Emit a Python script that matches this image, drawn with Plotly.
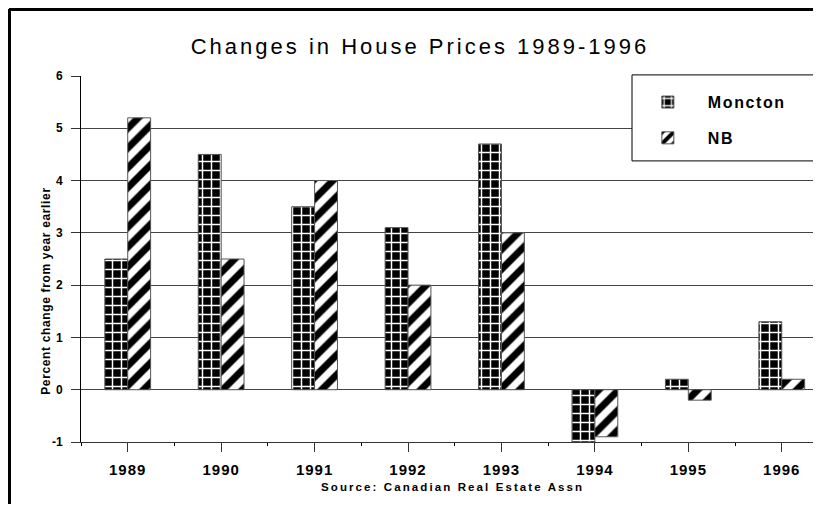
import plotly.graph_objects as go

years = ["1989", "1990", "1991", "1992", "1993", "1994", "1995", "1996"]
moncton = [2.5, 4.5, 3.5, 3.1, 4.7, -1.0, 0.2, 1.3]
nb = [5.2, 2.5, 4.0, 2.0, 3.0, -0.9, -0.2, 0.2]
y_ticks = [-1, 0, 1, 2, 3, 4, 5, 6]
y_labels = ["-1", "0", "1", "2", "3", "4", "5", "6"]
pos = list(range(len(years)))

FONT = "Liberation Sans, Arial, sans-serif"


def spaced(text, px):
    # the original output has widely tracked lettering
    return f'<span style="letter-spacing:{px}px">{text}</span>'


bold = dict(family=FONT, size=12, color="black", weight="bold")

fig = go.Figure()
fig.add_trace(go.Bar(
    x=pos, y=moncton, name=spaced("Moncton", 1.6), legendgroup="a",
    marker=dict(color="black", line=dict(color="#555", width=1),
                pattern=dict(shape="+", bgcolor="black", fgcolor="white",
                             size=9, solidity=0.3, fillmode="replace")),
))
fig.add_trace(go.Bar(
    x=pos, y=nb, name=spaced("NB", 1.6), legendgroup="b",
    marker=dict(color="white", line=dict(color="#555", width=1),
                pattern=dict(shape="/", bgcolor="white", fgcolor="black",
                             size=14, solidity=0.5, fillmode="replace")),
))

fig.update_layout(
    width=813, height=496,
    margin=dict(l=73, r=0, t=68, b=62),
    paper_bgcolor="white", plot_bgcolor="white",
    barmode="group", bargap=0.51, bargroupgap=0,
    title=dict(text=spaced("Changes in House Prices 1989-1996", 3),
               x=412 / 813, xanchor="center", y=1 - 38.5 / 496, yanchor="middle",
               font=dict(family=FONT, size=22, color="black", weight="normal")),
    legend=dict(x=0.739, y=0.975, xanchor="left", yanchor="top",
                bgcolor="rgba(0,0,0,0)", borderwidth=0, itemwidth=70,
                font=dict(family=FONT, size=16, color="black", weight="bold"),
                tracegroupgap=12),
    font=bold,
    showlegend=True,
)

fig.update_xaxes(
    range=[-0.5, 7.42], tickvals=pos, ticktext=[spaced(y, 1) for y in years],
    ticks="outside", ticklen=9, tickcolor="#333",
    tickfont=dict(family=FONT, size=15, color="black", weight="bold"),
    ticklabelstandoff=5,
    showgrid=False, showline=True, linecolor="#333", linewidth=1,
    zeroline=False,
    minor=dict(ticks="outside", ticklen=3, tick0=0.5, dtick=1, tickcolor="black", showgrid=False),
)
fig.update_yaxes(
    range=[-1, 6], tickvals=y_ticks, ticktext=y_labels,
    tickfont=dict(family=FONT, size=12, color="black", weight="bold"),
    ticks="outside", ticklen=9, tickcolor="#333", ticklabelstandoff=6,
    showgrid=True, gridcolor="#444", gridwidth=1,
    zeroline=True, zerolinecolor="#444", zerolinewidth=1,
    showline=True, linecolor="black", linewidth=1,
)

# axis titles placed as annotations to match the original offsets (plot width 740)
fig.add_annotation(text=spaced("Percent change from year earlier", 0.65), textangle=-90,
                   xref="paper", yref="paper", x=-0.0473, y=0.413,
                   xanchor="center", yanchor="middle",
                   showarrow=False, font=bold)
fig.add_annotation(text=spaced("Source: Canadian Real Estate Assn", 2.1),
                   xref="paper", yref="paper", x=0.5027, y=-0.123,
                   xanchor="center", yanchor="middle",
                   showarrow=False, font=dict(family=FONT, size=11.5, color="black", weight="bold"))

# legend box
fig.add_shape(type="rect", xref="paper", yref="paper",
              x0=0.7446, x1=1.05, y0=0.768, y1=1.003,
              line=dict(color="black", width=1), fillcolor="white", layer="above")
# outer frame: only the top and left edges show in the original
fig.add_shape(type="line", xref="paper", yref="paper",
              x0=-0.0973, x1=1.1, y0=1.183, y1=1.183,
              line=dict(color="black", width=4), layer="above")
fig.add_shape(type="line", xref="paper", yref="paper",
              x0=-0.0973, x1=-0.0973, y0=-0.4, y1=1.183,
              line=dict(color="black", width=4), layer="above")

fig.write_html("out.html")
